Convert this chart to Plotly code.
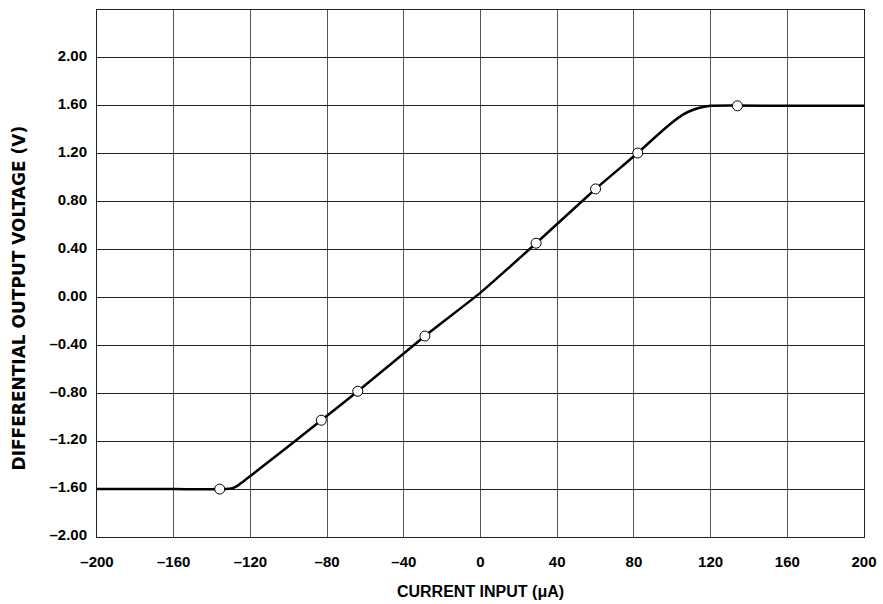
import plotly.graph_objects as go

# Curve (current in µA, voltage in V)
curve_x = [-200, -160, -133, -130, -127, -124, -120, -110, -96, -83, -64, -29, 0, 29, 60, 82, 88, 99, 106, 111, 116, 120, 160, 200]
curve_y = [-1.6, -1.6, -1.6, -1.595, -1.575, -1.54, -1.49, -1.365, -1.19, -1.025, -0.783, -0.322, 0.04, 0.453, 0.906, 1.206, 1.294, 1.448, 1.53, 1.567, 1.59, 1.6, 1.6, 1.6]

# Measured points (open circles)
marker_x = [-136, -83, -64, -29, 29, 60, 82, 134]
marker_y = [-1.6, -1.025, -0.783, -0.322, 0.453, 0.906, 1.206, 1.6]

x_tickvals = [-200, -160, -120, -80, -40, 0, 40, 80, 120, 160, 200]
x_ticktext = ["–200", "–160", "–120", "–80", "–40", "0", "40", "80", "120", "160", "200"]
y_tickvals = [-2.0, -1.6, -1.2, -0.8, -0.4, 0.0, 0.4, 0.8, 1.2, 1.6, 2.0]
y_ticktext = ["–2.00", "–1.60", "–1.20", "–0.80", "–0.40", "0.00", "0.40", "0.80", "1.20", "1.60", "2.00"]

FONT = "Liberation Sans, Arial, sans-serif"

fig = go.Figure()
fig.add_trace(go.Scatter(
    x=curve_x, y=curve_y, mode="lines",
    line=dict(color="black", width=2.5, shape="spline", smoothing=0.5),
    hoverinfo="skip", showlegend=False,
))
fig.add_trace(go.Scatter(
    x=marker_x, y=marker_y, mode="markers",
    marker=dict(symbol="circle", size=10, color="white", line=dict(color="black", width=1)),
    showlegend=False,
))

fig.update_layout(
    width=883, height=604,
    margin=dict(l=97, r=19, t=10, b=67),
    paper_bgcolor="white", plot_bgcolor="white",
    font=dict(family=FONT, color="black"),
    annotations=[dict(
        text="DIFFERENTIAL OUTPUT VOLTAGE (V)", textangle=-90,
        xref="paper", yref="y", x=-0.1017, y=0.0, xanchor="center", yanchor="middle",
        showarrow=False,
        font=dict(family="DejaVu Sans, Liberation Sans, sans-serif", size=17, weight="bold", color="black"),
    )],
)
fig.update_xaxes(
    range=[-200, 200], tickvals=x_tickvals, ticktext=x_ticktext,
    showgrid=True, gridcolor="#555", gridwidth=1, zeroline=False,
    showline=True, linecolor="#222", linewidth=1, mirror=True,
    ticks="", ticklabelstandoff=11, automargin=False,
    tickfont=dict(family=FONT, size=15, weight="bold", color="black"),
    title=dict(text="CURRENT INPUT (μA)", standoff=16,
               font=dict(family=FONT, size=16, weight="bold", color="black")),
)
fig.update_yaxes(
    range=[-2.0, 2.4], tickvals=y_tickvals, ticktext=y_ticktext,
    showgrid=True, gridcolor="#222", gridwidth=1, zeroline=False,
    showline=True, linecolor="#222", linewidth=1, mirror=True,
    ticks="", ticklabelstandoff=6, ticklabelshift=-2, automargin=False,
    tickfont=dict(family=FONT, size=15, weight="bold", color="black"),
)

fig.write_html(
    "out.html",
    config={"displayModeBar": False},
    post_script="document.body.style.margin='0px';document.documentElement.style.overflow='hidden';",
)
